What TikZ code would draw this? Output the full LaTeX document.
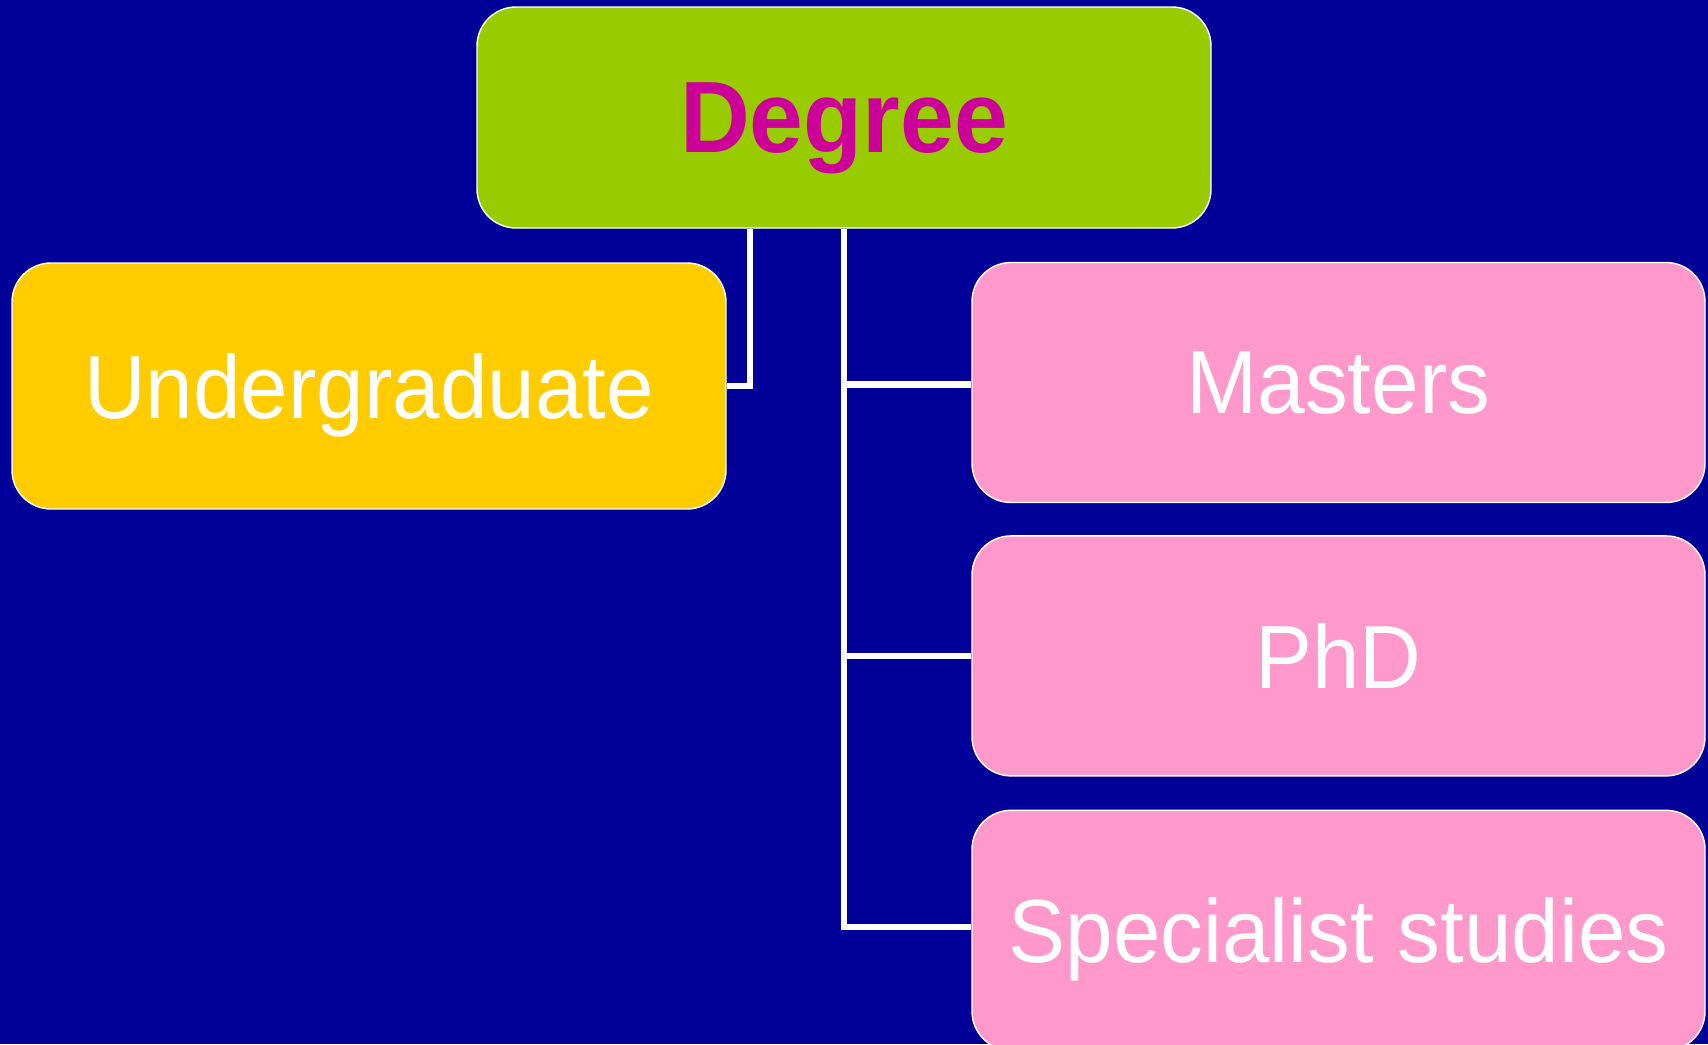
\documentclass[tikz,border=0pt]{standalone}
\usepackage{fontspec}
\setmainfont{Liberation Sans}
\usetikzlibrary{positioning}
\definecolor{bgblue}{HTML}{000099}
\definecolor{leaf}{HTML}{99CC00}
\definecolor{gold}{HTML}{FFCC00}
\definecolor{rose}{HTML}{FF99CC}
\definecolor{plum}{HTML}{CC0099}
\newcommand{\tallword}[1]{\scalebox{1}[1.05]{#1}}

\begin{document}
\begin{tikzpicture}[x=0.1mm,y=-0.1mm,
  box/.style={draw=white,line width=0.4pt,rounded corners=3.9mm,inner sep=0pt,
    text depth=0pt,text=white,font=\fontsize{24.3}{28}\selectfont},
  sidebox/.style={box,fill=rose,minimum width=73.3mm,minimum height=24mm},
  link/.style={draw=white,line width=1.8pt}]
  \useasboundingbox (0,0) rectangle (1708,1044);
  \fill[bgblue] (0,0) rectangle (1708,1044);
  % top of the tree
  \node[box,fill=leaf,minimum width=73.4mm,minimum height=22.1mm,text=plum,
    font=\bfseries\fontsize{27.5}{30}\selectfont] (deg) at (844,117.5) {\tallword{Degree}};
  \node[box,fill=gold,minimum width=71.4mm,minimum height=24.6mm] (ug) at (369,386) {\tallword{Undergraduate}};
  % right column
  \node[sidebox] (ma) at (1338.5,382.5) {\tallword{Masters}};
  \node[sidebox,below=3.2mm of ma] (phd) {\tallword{PhD}};
  \node[sidebox,below=3.3mm of phd] (sp) {\tallword{Specialist studies}};
  % connectors
  \coordinate (ugdrop) at ([xshift=-9.4mm]deg.south);
  \draw[link] (ugdrop) |- (ug.east);
  \draw[link] (deg.south) |- ([yshift=0.3mm]sp.west);
  \draw[link] ([yshift=-0.2mm]deg.south |- ma.west) -- ([yshift=-0.2mm]ma.west);
  \draw[link] (deg.south |- phd.west) -- (phd.west);
\end{tikzpicture}
\end{document}
